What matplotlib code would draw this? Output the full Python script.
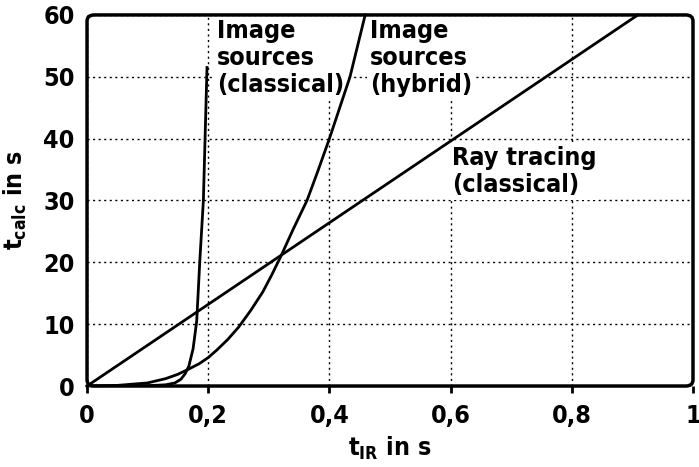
import matplotlib
matplotlib.use('Agg')
import matplotlib.pyplot as plt
from matplotlib.patches import FancyBboxPatch

# data
ray_x = [0, 0.909]
ray_y = [0, 60]

classical_x = [0, 0.05, 0.10, 0.13, 0.145, 0.155, 0.162, 0.168, 0.175, 0.181, 0.186, 0.192, 0.198]
classical_y = [0, 0.0, 0.05, 0.2, 0.5, 1.1, 2.0, 3.2, 6.0, 10.5, 20, 30, 51.5]

hybrid_x = [0, 0.05, 0.10, 0.13, 0.15, 0.167, 0.185, 0.20, 0.214, 0.232, 0.25, 0.27,
            0.29, 0.305, 0.32, 0.34, 0.363, 0.38, 0.40, 0.417, 0.434, 0.459]
hybrid_y = [0, 0.1, 0.5, 1.2, 1.9, 2.7, 3.6, 4.6, 5.8, 7.5, 9.5, 12.2,
            15.2, 18, 21, 25.3, 30, 34.5, 40, 45, 50, 60]

x_ticks = [0, 0.2, 0.4, 0.6, 0.8, 1]
x_labels = ['0', '0,2', '0,4', '0,6', '0,8', '1']
y_ticks = [0, 10, 20, 30, 40, 50, 60]

plt.rcParams['font.family'] = ['DejaVu Sans']
plt.rcParams['font.stretch'] = 'condensed'
plt.rcParams['font.weight'] = 'bold'
plt.rcParams['axes.labelweight'] = 'bold'
plt.rcParams['mathtext.fontset'] = 'custom'
plt.rcParams['mathtext.rm'] = 'DejaVu Sans:bold:stretch=condensed'
plt.rcParams['mathtext.bf'] = 'DejaVu Sans:bold:stretch=condensed'

fig = plt.figure(figsize=(6.99, 4.67), dpi=100)
ax = fig.add_axes([0.1245, 0.1734, 0.8669, 0.7946])

ax.plot(ray_x, ray_y, color='black', lw=2, clip_on=False, zorder=3)
ax.plot(classical_x, classical_y, color='black', lw=2, zorder=3)
ax.plot(hybrid_x, hybrid_y, color='black', lw=2, clip_on=False, zorder=3)

ax.set_xlim(0, 1)
ax.set_ylim(0, 60)
ax.set_xticks(x_ticks)
ax.set_xticklabels(x_labels)
ax.set_yticks(y_ticks)
ax.tick_params(axis='x', direction='out', length=5, width=2, labelsize=18, pad=8)
ax.tick_params(axis='y', direction='out', length=0, labelsize=18, pad=9)
ax.grid(True, color='black', linestyle=(0, (1.5, 2.5)), lw=1)

for s in ax.spines.values():
    s.set_visible(False)
frame = FancyBboxPatch((0, 0), 1, 1, boxstyle='round,pad=0,rounding_size=0.012',
                       transform=ax.transAxes, fill=False, lw=2.5, ec='black',
                       clip_on=False, zorder=4, mutation_aspect=1.4)
ax.add_patch(frame)

ax.set_xlabel(r'$\mathbf{t}_{\mathrm{IR}}$ in s', fontsize=18, labelpad=5)
ax.set_ylabel(r'$\mathbf{t}_{\mathrm{calc}}$ in s', fontsize=18, labelpad=10)

box = dict(facecolor='white', edgecolor='none', pad=2)
ax.text(0.215, 59.3, 'Image\nsources\n(classical)', fontsize=18, va='top', ha='left',
        linespacing=1.15, bbox=box, zorder=2)
ax.text(0.467, 59.3, 'Image\nsources\n(hybrid)', fontsize=18, va='top', ha='left',
        linespacing=1.15, bbox=box, zorder=2)
ax.text(0.602, 38.8, 'Ray tracing\n(classical)', fontsize=18, va='top', ha='left',
        linespacing=1.15, bbox=box, zorder=2)

fig.savefig('out.png', dpi=100)
